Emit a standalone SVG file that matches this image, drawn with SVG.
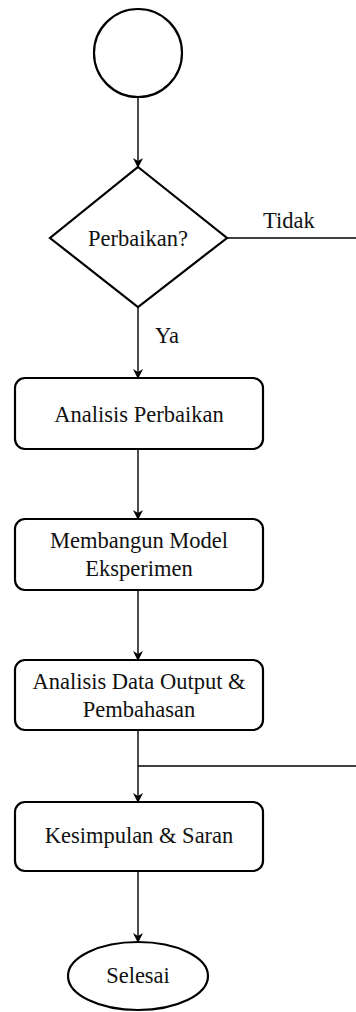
<svg xmlns="http://www.w3.org/2000/svg" width="356" height="1012" viewBox="0 0 356 1012">
  <style>
    .shape { fill: #ffffff; stroke: #000000; stroke-width: 2.2; }
    .edge { fill: none; stroke: #000000; stroke-width: 1.4; }
    .t { font-family: "Liberation Serif", "Times New Roman", "DejaVu Serif", serif; font-size: 22.5px; fill: #111111; }
    .label { text-anchor: middle; }
  </style>
  <defs>
    <marker id="arrow" viewBox="0 0 10 10" refX="9" refY="5" markerWidth="10" markerHeight="10" markerUnits="userSpaceOnUse" orient="auto">
      <path d="M0,0 L10,5 L0,10 L3,5 Z" fill="#000000"/>
    </marker>
  </defs>

  <!-- flow lines and branch labels -->
  <g id="connectors">
    <line class="edge" x1="138" y1="97" x2="138" y2="167" marker-end="url(#arrow)"/>
    <line class="edge" x1="227" y1="238" x2="356" y2="238"/>
    <line class="edge" x1="138" y1="307" x2="138" y2="378" marker-end="url(#arrow)"/>
    <line class="edge" x1="138" y1="449" x2="138" y2="519" marker-end="url(#arrow)"/>
    <line class="edge" x1="138" y1="590" x2="138" y2="660" marker-end="url(#arrow)"/>
    <line class="edge" x1="138" y1="730" x2="138" y2="802" marker-end="url(#arrow)"/>
    <polyline class="edge" points="356,766 138,766"/>
    <line class="edge" x1="138" y1="871" x2="138" y2="942" marker-end="url(#arrow)"/>
    <text class="t" x="263" y="228">Tidak</text>
    <text class="t" x="155" y="343">Ya</text>
  </g>

  <g id="start">
    <circle class="shape" cx="138" cy="53" r="44"/>
  </g>

  <g id="decision">
    <polygon class="shape" points="138,167 227,238 138,307 50,238"/>
    <text class="t label" x="138" y="246">Perbaikan?</text>
  </g>

  <g id="analisis-perbaikan">
    <rect class="shape" x="15" y="378" width="248" height="71" rx="10"/>
    <text class="t label" x="139" y="422">Analisis Perbaikan</text>
  </g>

  <g id="membangun-model">
    <rect class="shape" x="15" y="519" width="248" height="71" rx="10"/>
    <text class="t label" x="139" y="548">Membangun Model</text>
    <text class="t label" x="139" y="576">Eksperimen</text>
  </g>

  <g id="analisis-data">
    <rect class="shape" x="15" y="660" width="248" height="70" rx="10"/>
    <text class="t label" x="139" y="689">Analisis Data Output &amp;</text>
    <text class="t label" x="139" y="717">Pembahasan</text>
  </g>

  <g id="kesimpulan">
    <rect class="shape" x="15" y="802" width="248" height="69" rx="10"/>
    <text class="t label" x="139" y="843">Kesimpulan &amp; Saran</text>
  </g>

  <g id="selesai">
    <ellipse class="shape" cx="138" cy="976" rx="70" ry="34"/>
    <text class="t label" x="138" y="983">Selesai</text>
  </g>
</svg>
